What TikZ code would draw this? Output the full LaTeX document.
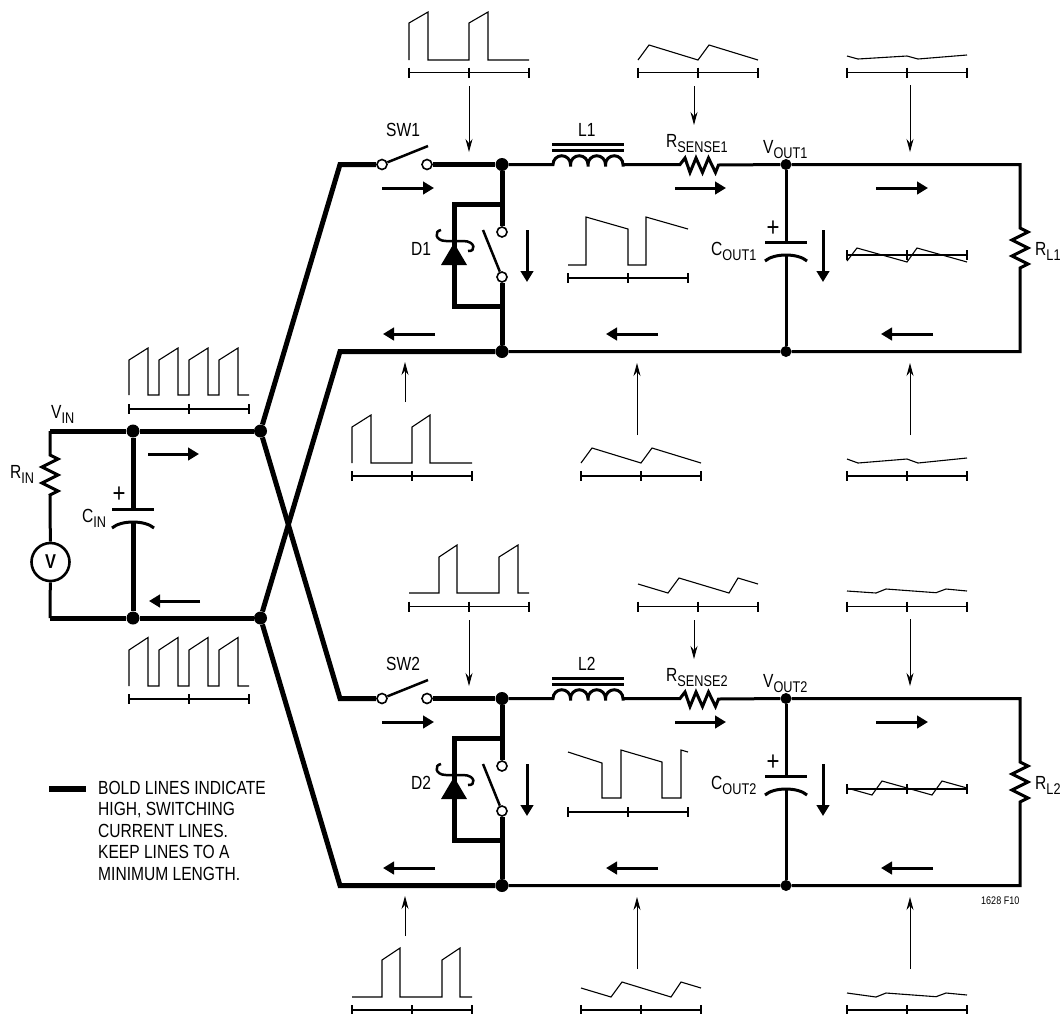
\documentclass[tikz,border=0pt]{standalone}
\usepackage{fontspec}
\setmainfont[FakeStretch=0.82]{Liberation Sans}
\usetikzlibrary{arrows.meta}
\newcommand{\sbs}[2]{#1\raisebox{-5pt}{\fontsize{15.5}{16}\selectfont #2}}
\newcommand{\tbase}[2]{\draw[wave] (#1,#2) ++(0,-5) -- ++(0,10) ++(0,-5) -- ++(60,0) ++(0,-5) -- ++(0,10) ++(0,-5) -- ++(60,0) ++(0,-5) -- ++(0,10);}
\newcommand{\capplate}[2]{\draw[wire] (#1-21,#2) -- (#1+21,#2);
  \draw[wire] (#1-21,#2+19) .. controls (#1-12,#2+11) and (#1+12,#2+11) .. (#1+21,#2+19);}
\def\zigH{-- ++(5,-6.5) -- ++(5,14.5) -- ++(6,-14.5) -- ++(6.5,14.5) -- ++(6,-14.5) -- ++(7,14.5) -- ++(3,-7.5)}
\def\zigV{-- ++(8,4) -- ++(-16,8) -- ++(16,8) -- ++(-16,8) -- ++(16,8) -- ++(-8,4)}
\def\hump{arc[start angle=180,end angle=0,radius=8.75pt] -- ++(0,2) -- ++(0,-2)}
\tikzset{
  wire/.style ={line width=3pt},
  bold/.style ={line width=5pt},
  wave/.style ={line width=1.1pt},
  cur/.style  ={line width=3pt, -{Triangle[length=11pt,width=12.5pt]}},
  probe/.style={line width=0.9pt, -{Stealth[length=13pt,width=7pt]}},
  dot/.style  ={circle, fill, inner sep=0pt, minimum size=13pt},
  dotsm/.style={circle, fill, inner sep=0pt, minimum size=11pt},
  term/.style ={circle, draw, fill=white, line width=1.6pt, inner sep=0pt, minimum size=10pt},
  vsrc/.style ={circle, draw, line width=2.6pt, inner sep=0pt, minimum size=38pt, font=\fontsize{20}{20}\selectfont\bfseries},
  lbl/.style  ={anchor=base west, inner sep=0pt, font=\fontsize{19}{21.5}\selectfont},
  plus/.style ={inner sep=0pt, font=\fontsize{27}{27}\selectfont}
}
\begin{document}
\begin{tikzpicture}[x=1pt,y=-1pt]
\useasboundingbox (0,0) rectangle (1063,1013);
\node[dot] (vit) at (133,431) {};
\node[dot] (vib) at (133,618) {};
\node[dot] (vp) at (260.5,431) {};
\node[dot] (vn) at (260.5,618) {};
\node[vsrc] (vs) at (50.5,562) {V};
\coordinate (ct) at (50,431);
\coordinate (cb) at (50,618);
\coordinate (rina) at (50,455);
\coordinate (cia) at (133,509);
\coordinate (cib) at (133,521);
\draw[bold] (vp) -- (vit) -- (ct);
\draw[bold] (vn) -- (vib) -- (cb);
\draw[wire] (ct) -- (rina) \zigV -- (vs);
\draw[wire] (vs) -- (cb);
\draw[bold] (vit) -- (cia);
\draw[bold] (cib) -- (vib);
\capplate{133}{509}
\node[plus] (pin) at (119,495) {+};
\node[lbl] (lvin) at (51,418) {\sbs{V}{IN}};
\node[lbl] (lrin) at (10,478) {\sbs{R}{IN}};
\node[lbl] (lcin) at (82,522) {\sbs{C}{IN}};
\coordinate (ia1) at (148,454);
\coordinate (ia2) at (199,454);
\coordinate (ia3) at (200,601);
\coordinate (ia4) at (149,601);
\draw[cur] (ia1) -- (ia2);
\draw[cur] (ia3) -- (ia4);
\foreach \ch/\dy in {1/0,2/534}{
\begin{scope}[yshift=-\dy pt]
  \node[dot] (jt\ch) at (502,164.5) {};
  \node[dot] (jb\ch) at (502,351.5) {};
  \node[dotsm] (ot\ch) at (786,164.5) {};
  \node[dotsm] (ob\ch) at (786,351.5) {};
  \node[term] (swa\ch) at (382,164.5) {};
  \node[term] (swb\ch) at (427,164.5) {};
  \node[term] (dsa\ch) at (502,232) {};
  \node[term] (dsb\ch) at (502,277) {};
  \coordinate (ka\ch) at (340,164.5);
  \coordinate (kb\ch) at (340,351.5);
  \coordinate (swe\ch) at (428,146);
  \coordinate (dse\ch) at (483,230);
  \coordinate (fa\ch) at (502,204.5);
  \coordinate (fb\ch) at (454,204.5);
  \coordinate (fc\ch) at (454,306);
  \coordinate (fd\ch) at (502,306);
  \coordinate (la\ch) at (553,164.5);
  \coordinate (rsa\ch) at (680,164.5);
  \coordinate (rt\ch) at (1020,164.5);
  \coordinate (rb\ch) at (1020,351.5);
  \coordinate (rla\ch) at (1020,228);
  \coordinate (cpa\ch) at (786,242);
  \coordinate (cpb\ch) at (786,255);
  \draw[bold] (vp) -- (ka\ch) -- (swa\ch);
  \draw[bold] (vn) -- (kb\ch) -- (jb\ch);
  \draw[bold] (swb\ch) -- (jt\ch);
  \draw[bold] (jt\ch) -- (dsa\ch);
  \draw[bold] (dsb\ch) -- (jb\ch);
  \draw[bold] (fa\ch) -- (fb\ch) -- (fc\ch) -- (fd\ch);
  \draw[line width=2.5pt] (swa\ch) -- (swe\ch);
  \draw[line width=2.5pt] (dsb\ch) -- (dse\ch);
  \draw[wire] (jt\ch) -- (la\ch) \hump \hump \hump \hump -- (rsa\ch) \zigH -- (ot\ch) -- (rt\ch) -- (rla\ch) \zigV -- (rb\ch) -- (ob\ch) -- (jb\ch);
  \draw[wire] (552,144) -- (624,144);
  \draw[wire] (552,150.5) -- (624,150.5);
  \draw[wire] (ot\ch) -- (cpa\ch);
  \draw[wire] (cpb\ch) -- (ob\ch);
  \capplate{786}{242}
  \fill (454,243) -- (467,265) -- (441,265) -- cycle;
  \draw[line width=2.5pt] (441,230) .. controls (434,231) and (435,241) .. (446,241) -- (463,241) .. controls (476,241) and (476,252) .. (468,251);
  \node[plus] (pout\ch) at (773,229) {+};
  \node[lbl] (lsw\ch) at (386,136) {SW\ch};
  \node[lbl] (ll\ch) at (578,136) {L\ch};
  \node[lbl] (ld\ch) at (411,255) {D\ch};
  \node[lbl] (lrs\ch) at (666,147) {\sbs{R}{SENSE\ch}};
  \node[lbl] (lvo\ch) at (763,153) {\sbs{V}{OUT\ch}};
  \node[lbl] (lco\ch) at (711,255.5) {\sbs{C}{OUT\ch}};
  \node[lbl] (lrl\ch) at (1035,255) {\sbs{R}{L\ch}};
  \foreach \k/\xa/\ya/\xb/\yb in {a/382/188/434/188,b/675/188/726/188,c/876/188/928/188,d/527/230/527/282,
      e/823/230/823/282,f/435/334/383/334,g/658/334/606/334,h/933/334/881/334}{
    \coordinate (cs\ch\k) at (\xa,\ya);
    \coordinate (ce\ch\k) at (\xb,\yb);
    \draw[cur] (cs\ch\k) -- (ce\ch\k);
  }
  \foreach \k/\xa/\ya/\xb/\yb in {a/469/86/469/152,b/694/86/694/125,c/910/85/910/152,
      d/405/402/405/362,e/637/435/637/363,f/910/435/910/363}{
    \coordinate (ps\ch\k) at (\xa,\ya);
    \coordinate (pe\ch\k) at (\xb,\yb);
    \draw[probe] (ps\ch\k) -- (pe\ch\k);
  }
  \tbase{409}{72.5}
  \tbase{638}{72.5}
  \tbase{847}{72.5}
  \tbase{568}{278}
  \tbase{847}{255}
  \tbase{352}{476}
  \tbase{581}{476}
  \tbase{847}{476}
\end{scope}
}
\tbase{129}{409}
\tbase{129}{699}
\draw[wave] (129,395) -- (129,360) -- (148,348) -- (148,395) -- (159,395) -- (159,360) -- (178,348) -- (178,395) -- (189,395) -- (189,360) -- (208,348) -- (208,395) -- (219,395) -- (219,360) -- (238,348) -- (238,395) -- (249,395);
\draw[wave] (129,686) -- (129,650) -- (148,637.5) -- (148,686) -- (159,686) -- (159,650) -- (178,637.5) -- (178,686) -- (189,686) -- (189,650) -- (208,637.5) -- (208,686) -- (219,686) -- (219,650) -- (238,637.5) -- (238,686) -- (249,686);
\draw[wave] (409,60) -- (409,23) -- (428,12) -- (428,60) -- (469,60) -- (469,23) -- (488,12) -- (488,60) -- (529,60);
\draw[wave] (638,60) -- (649,45) -- (698,60) -- (709,45) -- (758,60);
\draw[wave] (847,56) -- (858,59) -- (907,56) -- (918,59) -- (967,55);
\draw[wave] (568,265) -- (586,265) -- (586,217) -- (628,229) -- (628,265) -- (646,265) -- (646,217) -- (688,229);
\draw[wave] (847,261) -- (857,248) -- (907,262) -- (917,248) -- (967,262);
\draw[wave] (352,463) -- (352,427) -- (371,415) -- (371,463) -- (412,463) -- (412,427) -- (430,415) -- (430,463) -- (472,463);
\draw[wave] (581,463) -- (592,448) -- (641,463) -- (652,448) -- (701,463);
\draw[wave] (847,459) -- (858,463) -- (907,459) -- (918,463) -- (967,458);
\draw[wave] (409,593) -- (439,593) -- (439,557) -- (457,545) -- (457,593) -- (499,593) -- (499,557) -- (518,545) -- (518,593) -- (529,593);
\draw[wave] (638,584) -- (668,593) -- (679,578) -- (729,593) -- (738,578) -- (758,584);
\draw[wave] (847,591) -- (876,593) -- (886,589) -- (936,592.7) -- (946,589) -- (967,591);
\draw[wave] (568,752) -- (602,763) -- (602,798) -- (621,798) -- (621,750) -- (662,762) -- (662,798) -- (681,798) -- (681,750) -- (688,752);
\draw[wave] (847,788) -- (872,795) -- (882,781) -- (932,795) -- (942,781) -- (967,788);
\draw[wave] (352,997) -- (382,997) -- (382,960) -- (400,948) -- (400,997) -- (442,997) -- (442,960) -- (460,948) -- (460,997) -- (472,997);
\draw[wave] (581,988) -- (611,997) -- (622,982) -- (671,997) -- (681,982) -- (701,988);
\draw[wave] (847,993) -- (876,997) -- (886,993) -- (936,996.7) -- (946,993) -- (967,995);
\coordinate (lega) at (49,788.5);
\coordinate (legb) at (86,788.5);
\draw[line width=6pt] (lega) -- (legb);
\node[lbl, anchor=north west, align=left] (legend) at (98,781) {BOLD LINES INDICATE\\HIGH, SWITCHING\\CURRENT LINES.\\KEEP LINES TO A\\MINIMUM LENGTH.};
\node[lbl, font=\fontsize{11}{11}\selectfont] (figno) at (981,904) {1628 F10};
\end{tikzpicture}
\end{document}
